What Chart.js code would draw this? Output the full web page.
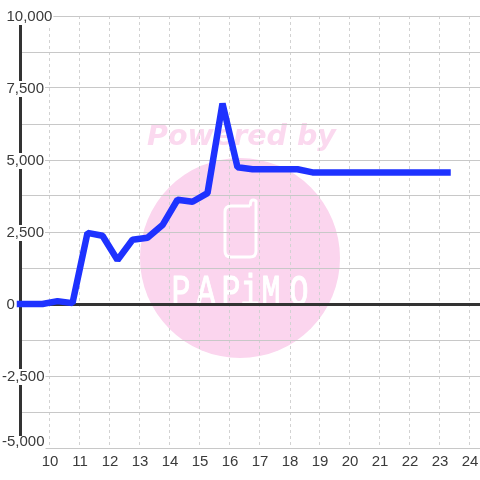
<!DOCTYPE html>
<html>
<head>
<meta charset="utf-8">
<style>
html, body { margin: 0; padding: 0; background: #ffffff; }
canvas { display: block; }
</style>
<script src="https://cdn.jsdelivr.net/npm/chart.js@4"></script>
</head>
<body>
<canvas id="priceChart" width="480" height="480"></canvas>
<script>
var hours = [9, 9.75, 10.25, 10.75, 11.25, 11.75, 12.25, 12.75, 13.25, 13.75, 14.25, 14.75, 15.25, 15.75, 16.25, 16.75, 17.25, 17.75, 18.25, 18.75, 19.25, 19.75, 20.25, 20.75, 21.25, 21.75, 22.25, 22.75, 23.25];
var prices = [0, 0, 100, 30, 2470, 2370, 1530, 2230, 2300, 2740, 3620, 3550, 3850, 6960, 4750, 4680, 4680, 4680, 4680, 4570, 4570, 4570, 4570, 4570, 4570, 4570, 4570, 4570, 4570];
var hourTicks = [9, 10, 11, 12, 13, 14, 15, 16, 17, 18, 19, 20, 21, 22, 23, 24];
var priceTicks = [-5000, -3750, -2500, -1250, 0, 1250, 2500, 3750, 5000, 6250, 7500, 8750, 10000];
var logoLetters = ['P', 'A', 'P', 'i', 'M', 'O'];
var logoLetterX = [181, 206, 231, 250, 271, 299];

function hasLabel(value) {
    return value % 2500 === 0;
}

// draws the pink logo behind the grid
var watermark = {
    id: 'watermark',
    beforeDraw: function(chart) {
        var c = chart.ctx;
        c.save();
        c.fillStyle = '#fbd5ee';
        c.beginPath();
        c.arc(240, 258, 100, 0, Math.PI * 2);
        c.fill();

        c.fillStyle = '#fbd9ef';
        c.font = 'italic bold 28.5px "DejaVu Sans"';
        c.textAlign = 'center';
        c.textBaseline = 'alphabetic';
        c.fillText('Powered by', 241.5, 145);

        c.strokeStyle = '#ffffff';
        c.lineWidth = 3;
        c.lineJoin = 'round';
        c.beginPath();
        c.moveTo(250, 206);
        c.lineTo(231, 206);
        c.quadraticCurveTo(225, 206, 225, 212);
        c.lineTo(225, 251);
        c.quadraticCurveTo(225, 257, 231, 257);
        c.lineTo(250, 257);
        c.quadraticCurveTo(256, 257, 256, 251);
        c.lineTo(256, 201);
        c.quadraticCurveTo(253, 199, 251, 201);
        c.lineTo(250, 206);
        c.stroke();

        c.fillStyle = '#ffffff';
        c.lineWidth = 1;
        c.font = '44px "Liberation Mono"';
        for (var i = 0; i < logoLetters.length; i++) {
            c.save();
            c.translate(logoLetterX[i], 305);
            c.scale(0.72, 1);
            c.fillText(logoLetters[i], 0, 0);
            c.strokeText(logoLetters[i], 0, 0);
            c.restore();
        }
        c.restore();

        // y labels and their white boxes sit off their usual place in the original
        // (the box coordinates are relative to the label position)
        var yScale = chart.scales.y;
        yScale.getLabelItems().forEach(function(item) {
            if (!item.label) {
                return;
            }
            var mid = yScale.getPixelForValue(Number(item.label.replace(',', ''))) + 1;
            var box = item.options.backdrop;
            var shift = item.label.charAt(0) === '-' ? 4.5 : 0;
            item.options.translation[0] = 6.5 - shift;
            box.left = -1;
            box.top = -8;
            box.height = 16;
            if (item.label === '-5,000') {
                mid = mid - 7;
                box.top = 436 - mid;
                box.height = 14;
            }
            item.options.translation[1] = mid;
        });
    }
};

function load_chart() {
    var points = hours.map(function(h, i) {
        return { x: h, y: prices[i] };
    });
    var ctx = document.getElementById('priceChart').getContext('2d');
    new Chart(ctx, {
        type: 'line',
        plugins: [watermark],
        data: {
            datasets: [{
                data: points,
                borderColor: '#1e32ff',
                borderWidth: 6.5,
                borderCapStyle: 'square',
                borderJoinStyle: 'bevel',
                pointRadius: 0,
                tension: 0,
                clip: false
            }]
        },
        options: {
            responsive: false,
            animation: false,
            layout: { padding: { top: 16, left: 0, right: 0, bottom: 0 } },
            plugins: { legend: { display: false }, tooltip: { enabled: false } },
            scales: {
                x: {
                    type: 'linear',
                    min: 9,
                    max: 9 + 460 / 30,
                    afterBuildTicks: function(scale) {
                        scale.ticks = hourTicks.map(function(v) { return { value: v }; });
                    },
                    afterFit: function(scale) {
                        scale.height = 32;
                        scale.paddingLeft = 0;
                        scale.paddingRight = 0;
                    },
                    border: { display: false, dash: [3, 3] },
                    grid: { color: '#d2d2d2', lineWidth: 1, drawTicks: false },
                    ticks: {
                        autoSkip: false,
                        maxRotation: 0,
                        padding: 5,
                        color: '#3a3a3a',
                        font: { family: '"Liberation Sans"', size: 15 },
                        callback: function(v) { return v === 9 ? '' : String(v); }
                    }
                },
                y: {
                    type: 'linear',
                    min: -5000,
                    max: 10000,
                    afterBuildTicks: function(scale) {
                        scale.ticks = priceTicks.map(function(v) { return { value: v }; });
                    },
                    afterFit: function(scale) { scale.width = 20; },
                    border: { display: true, color: '#333333', width: 3 },
                    grid: {
                        drawTicks: false,
                        color: function(c) { return c.tick.value === 0 ? '#333333' : '#c8c8c8'; },
                        lineWidth: function(c) { return c.tick.value === 0 ? 3 : 1; }
                    },
                    ticks: {
                        autoSkip: false,
                        mirror: true,
                        padding: -14,
                        color: '#3a3a3a',
                        font: { family: '"Liberation Sans"', size: 15 },
                        showLabelBackdrop: function(c) { return hasLabel(c.tick.value); },
                        backdropColor: '#ffffff',
                        backdropPadding: 1,
                        callback: function(v) {
                            return hasLabel(v) ? v.toLocaleString('en-US') : '';
                        }
                    }
                }
            }
        }
    });
}

window.onload = function() {
    load_chart();
};
</script>
</body>
</html>
